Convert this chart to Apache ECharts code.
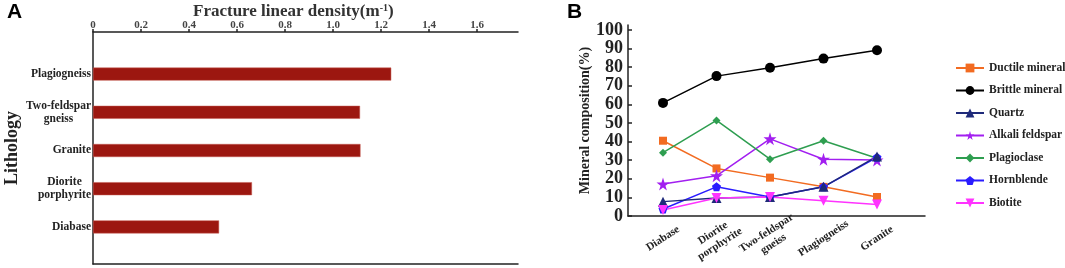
<!DOCTYPE html>
<html>
<head>
<meta charset="utf-8">
<script src="https://cdn.jsdelivr.net/npm/echarts@6/dist/echarts.min.js"></script>
<style>
  html, body { margin: 0; padding: 0; background: #fff; }
  #main { width: 1065px; height: 268px; }
</style>
</head>
<body>
<div id="main"></div>
<script>
// panel A: fracture linear density by lithology
var lithology = ['Plagiogneiss', 'Two-feldspar\ngneiss', 'Granite', 'Diorite\nporphyrite', 'Diabase']
var density = [1.242, 1.112, 1.114, 0.662, 0.525]
var densityTicks = [0, 0.2, 0.4, 0.6, 0.8, 1.0, 1.2, 1.4, 1.6]

// panel B: mineral composition (%)
var rocks = ['Diabase', 'Diorite\nporphyrite', 'Two-feldspar\ngneiss', 'Plagiogneiss', 'Granite']
var ductile = [40, 25, 20, 15, 9.5]
var brittle = [60.5, 75, 79.5, 84.5, 89]
var quartz = [7, 9, 9.5, 15, 31.5]
var alkali = [16.5, 21, 41, 30, 29.5]
var plagioclase = [33.5, 51, 30, 40, 30.5]
var hornblende = [3, 15, 9.5, 15, 31]
var biotite = [2.5, 9, 9.5, 7.5, 5.5]
var percentTicks = [0, 10, 20, 30, 40, 50, 60, 70, 80, 90, 100]

var serif = '"Liberation Serif", "DejaVu Serif", serif'
var STAR = 'path://M50,0 L61,35 L98,35 L68,57 L79,91 L50,70 L21,91 L32,57 L2,35 L39,35 Z'
var PENTAGON = 'path://M50,0 L98,35 L79,91 L21,91 L2,35 Z'
var DOWN = 'path://M0,0 L10,0 L5,9 Z'

var chart = echarts.init(document.getElementById('main'))

function lineSeries (name, data, color, symbol, size) {
  return {
    name: name,
    type: 'line',
    xAxisIndex: 4,
    yAxisIndex: 3,
    data: data,
    symbol: symbol,
    symbolSize: size,
    lineStyle: { color: color, width: 1.5 },
    itemStyle: { color: color },
    emphasis: { disabled: true }
  }
}

var hidden = { show: false }
// 坐标轴线（不跟随另一轴的0刻度）
var frameLine = { show: true, onZero: false, lineStyle: { color: '#222', width: 1.5 } }

var option = {
  animation: false,
  backgroundColor: '#fff',
  title: {
    text: '{a|Fracture linear density(m}{b|-1}{a|)}',
    left: 188,
    top: -2,
    textStyle: {
      rich: {
        a: { fontFamily: serif, fontWeight: 'bold', fontSize: 17, color: '#333' },
        b: { fontFamily: serif, fontWeight: 'bold', fontSize: 10, color: '#333', verticalAlign: 'top', padding: [0, 0, 8, 0] }
      }
    }
  },
  graphic: [
    { type: 'text', left: 7, top: 2, style: { text: 'A', font: 'bold 21px "Liberation Sans", Arial', fill: '#000' } },
    { type: 'text', left: 567, top: 2, style: { text: 'B', font: 'bold 21px "Liberation Sans", Arial', fill: '#000' } }
  ],
  legend: {
    orient: 'vertical',
    left: 950,
    top: 57,
    itemWidth: 28,
    itemHeight: 11,
    itemGap: 10.5,
    textStyle: { fontFamily: serif, fontWeight: 'bold', fontSize: 11.5, color: '#222' },
    data: ['Ductile mineral', 'Brittle mineral', 'Quartz', 'Alkali feldspar', 'Plagioclase', 'Hornblende', 'Biotite']
  },
  grid: [
    // A frame
    { left: 93, top: 32, width: 425, height: 232 },
    // A bars
    { left: 93, top: 55, width: 425, height: 191 },
    // B frame
    { left: 628, top: 25, width: 297, height: 191 },
    // B data
    { left: 663, top: 25, width: 214, height: 191 }
  ],
  xAxis: [
    {
      gridIndex: 0,
      type: 'value',
      position: 'top',
      min: 0,
      max: 1.77,
      splitLine: hidden,
      axisLine: frameLine,
      axisTick: { show: true, length: 3, lineStyle: { color: '#222', width: 1.5 }, customValues: densityTicks },
      axisLabel: {
        customValues: densityTicks,
        margin: 1,
        fontFamily: serif,
        fontWeight: 'bold',
        fontSize: 11,
        color: '#444',
        formatter: function (v) { return v === 0 ? '0' : v.toFixed(1) }
      }
    },
    {
      gridIndex: 0,
      type: 'value',
      position: 'bottom',
      min: 0,
      max: 1.77,
      splitLine: hidden,
      axisLine: frameLine,
      axisTick: hidden,
      axisLabel: hidden
    },
    {
      gridIndex: 1,
      type: 'value',
      min: 0,
      max: 1.77,
      show: false
    },
    {
      gridIndex: 2,
      type: 'value',
      min: 0,
      max: 1,
      splitLine: hidden,
      axisLine: frameLine,
      axisTick: hidden,
      axisLabel: hidden
    },
    {
      gridIndex: 3,
      type: 'category',
      boundaryGap: false,
      data: rocks,
      axisLine: hidden,
      axisTick: hidden,
      axisLabel: {
        rotate: 33,
        align: 'center',
        verticalAlign: 'middle',
        margin: 24,
        fontFamily: serif,
        fontWeight: 'bold',
        fontSize: 11,
        lineHeight: 13,
        color: '#222'
      }
    }
  ],
  yAxis: [
    {
      gridIndex: 0,
      type: 'value',
      min: 0,
      max: 1,
      name: 'Lithology',
      nameLocation: 'middle',
      nameGap: 72,
      nameTextStyle: { fontFamily: serif, fontWeight: 'bold', fontSize: 18, color: '#222' },
      splitLine: hidden,
      axisLine: frameLine,
      axisTick: hidden,
      axisLabel: hidden
    },
    {
      gridIndex: 1,
      type: 'category',
      inverse: true,
      data: lithology,
      axisLine: hidden,
      axisTick: hidden,
      axisLabel: {
        margin: 2,
        formatter: function (v) {
          return v.split('\n').map(function (s) { return '{a|' + s + '}' }).join('\n')
        },
        rich: {
          a: { fontFamily: serif, fontWeight: 'bold', fontSize: 11.5, color: '#222', align: 'center', lineHeight: 13 }
        }
      }
    },
    {
      gridIndex: 2,
      type: 'value',
      min: 0,
      max: 102.7,
      name: 'Mineral composition(%)',
      nameLocation: 'middle',
      nameGap: 34,
      nameTextStyle: { fontFamily: serif, fontWeight: 'bold', fontSize: 14, color: '#222' },
      splitLine: hidden,
      axisLine: frameLine,
      axisTick: { show: true, inside: true, length: 4, lineStyle: { color: '#222', width: 1.5 }, customValues: percentTicks },
      axisLabel: {
        customValues: percentTicks,
        margin: 5,
        fontFamily: serif,
        fontWeight: 'bold',
        fontSize: 18,
        color: '#222'
      }
    },
    {
      gridIndex: 3,
      type: 'value',
      min: 0,
      max: 102.7,
      show: false
    }
  ],
  series: [
    {
      name: 'density',
      type: 'bar',
      xAxisIndex: 2,
      yAxisIndex: 1,
      data: density,
      barWidth: 13,
      itemStyle: { color: '#9c1710', borderColor: '#c45a50', borderWidth: 0.5 },
      emphasis: { disabled: true }
    },
    lineSeries('Ductile mineral', ductile, '#f26b21', 'rect', 8),
    lineSeries('Brittle mineral', brittle, '#000000', 'circle', 10),
    lineSeries('Alkali feldspar', alkali, '#a21ff0', STAR, 13),
    lineSeries('Plagioclase', plagioclase, '#2e9e50', 'diamond', 8),
    lineSeries('Hornblende', hornblende, '#2a1cff', PENTAGON, 9),
    lineSeries('Quartz', quartz, '#1f2a7a', 'triangle', 10),
    lineSeries('Biotite', biotite, '#ff33ff', DOWN, 10)
  ]
}

chart.setOption(option)
</script>
</body>
</html>
